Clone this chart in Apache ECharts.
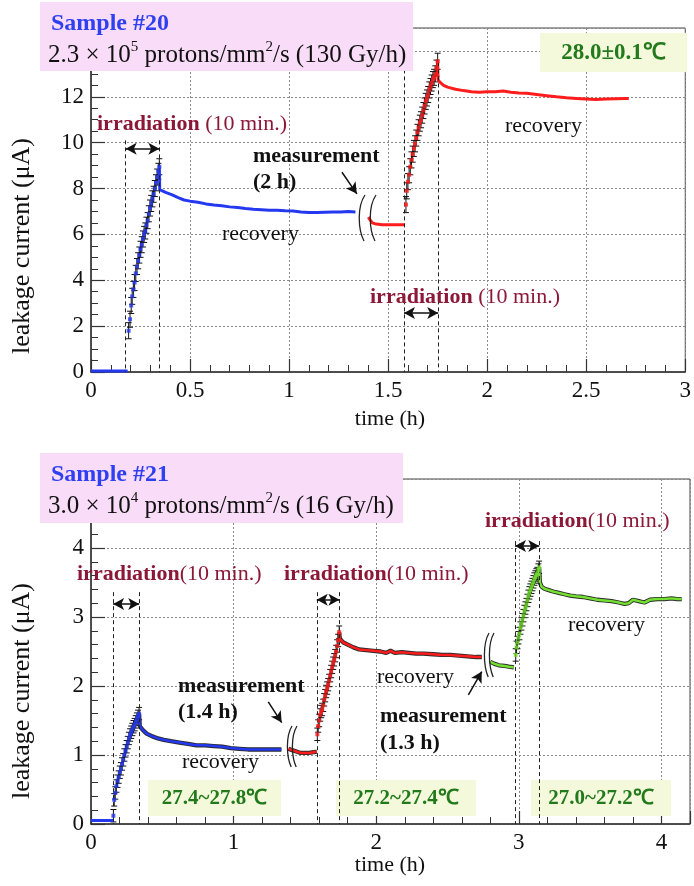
<!DOCTYPE html>
<html><head><meta charset="utf-8">
<script src="https://cdn.jsdelivr.net/npm/echarts@6/dist/echarts.min.js"></script>
<style>html,body{margin:0;padding:0;background:#fff}#c{width:694px;height:886px}</style>
</head><body><div id="c"></div>
<script>
// ===== Sample #20 (top panel) : [time (h), leakage current (uA)] =====
const s20Baseline = [[0,0.04],[0.05,0.04],[0.1,0.04],[0.15,0.04],[0.185,0.04]];
const s20Irr1 = [[0.19,1.8],[0.197,2.3],[0.203,2.9],[0.208,3.3],[0.214,3.6],[0.22,3.9],[0.226,4.3],[0.232,4.6],[0.238,4.85],[0.244,5.1],[0.25,5.35],[0.256,5.55],[0.262,5.8],[0.268,6.0],[0.274,6.15],[0.28,6.4],[0.286,6.6],[0.292,6.9],[0.298,7.15],[0.304,7.35],[0.31,7.55],[0.316,7.75],[0.322,8.0],[0.328,8.25],[0.334,8.5],[0.34,8.75],[0.345,8.95]];
const s20Rec1 = [[0.345,8.95],[0.347,7.95],[0.36,7.9],[0.38,7.82],[0.41,7.72],[0.44,7.6],[0.47,7.5],[0.5,7.45],[0.54,7.4],[0.58,7.33],[0.62,7.28],[0.66,7.25],[0.7,7.2],[0.74,7.17],[0.78,7.13],[0.82,7.1],[0.86,7.08],[0.9,7.05],[0.94,7.05],[0.98,7.03],[1.02,7.02],[1.06,6.98],[1.1,6.95],[1.14,6.95],[1.18,6.97],[1.22,6.98],[1.26,6.98],[1.3,7.0],[1.335,6.98]];
const s20Pre2 = [[1.4,6.75],[1.41,6.62],[1.42,6.5],[1.44,6.45],[1.47,6.42],[1.5,6.42],[1.53,6.42],[1.56,6.42],[1.585,6.42]];
const s20Irr2 = [[1.59,7.3],[1.594,7.9],[1.6,8.3],[1.606,8.6],[1.612,8.95],[1.618,9.25],[1.624,9.5],[1.63,9.75],[1.636,9.95],[1.642,10.2],[1.648,10.45],[1.654,10.65],[1.66,10.85],[1.666,11.0],[1.672,11.2],[1.678,11.4],[1.684,11.6],[1.69,11.8],[1.696,11.95],[1.702,12.1],[1.708,12.3],[1.714,12.45],[1.72,12.6],[1.726,12.75],[1.732,12.85],[1.738,13.0],[1.744,13.25],[1.75,13.55]];
const s20Rec2 = [[1.75,13.55],[1.752,12.75],[1.76,12.65],[1.78,12.5],[1.8,12.42],[1.84,12.33],[1.88,12.27],[1.92,12.22],[1.96,12.2],[2.0,12.22],[2.04,12.22],[2.08,12.25],[2.12,12.2],[2.16,12.17],[2.2,12.15],[2.25,12.1],[2.3,12.05],[2.35,12.0],[2.4,11.96],[2.45,11.93],[2.5,11.9],[2.55,11.88],[2.6,11.9],[2.65,11.92],[2.7,11.93],[2.715,11.93]];
const s20Err = 0.35;
const s20IrrWindows = [[0.175,0.345],[1.58,1.753]];
const s20XTicks = [0, 3, 0.5];   // min, max, interval
const s20YTicks = [0, 15, 2];

// ===== Sample #21 (bottom panel) =====
const s21Baseline = [[0,0.05],[0.05,0.05],[0.1,0.05],[0.155,0.05]];
const s21Irr1 = [[0.157,0.12],[0.163,0.35],[0.17,0.45],[0.178,0.55],[0.186,0.62],[0.194,0.68],[0.202,0.75],[0.21,0.8],[0.218,0.87],[0.226,0.93],[0.234,1.0],[0.242,1.06],[0.25,1.12],[0.258,1.18],[0.266,1.24],[0.274,1.29],[0.282,1.33],[0.29,1.37],[0.298,1.41],[0.306,1.44],[0.314,1.48],[0.322,1.52],[0.33,1.56],[0.337,1.6]];
const s21Rec1 = [[0.337,1.6],[0.342,1.42],[0.36,1.37],[0.39,1.31],[0.43,1.27],[0.47,1.24],[0.51,1.22],[0.56,1.2],[0.62,1.18],[0.68,1.16],[0.74,1.14],[0.8,1.14],[0.86,1.13],[0.92,1.12],[0.98,1.1],[1.04,1.09],[1.1,1.08],[1.16,1.08],[1.22,1.08],[1.28,1.08],[1.335,1.08]];
const s21Pre2 = [[1.385,1.09],[1.41,1.07],[1.44,1.05],[1.47,1.03],[1.5,1.03],[1.53,1.03],[1.56,1.04],[1.583,1.05]];
const s21Irr2 = [[1.587,1.3],[1.593,1.42],[1.6,1.5],[1.607,1.58],[1.614,1.63],[1.621,1.66],[1.628,1.72],[1.635,1.8],[1.642,1.86],[1.649,1.92],[1.656,1.97],[1.663,2.02],[1.67,2.08],[1.677,2.15],[1.684,2.21],[1.691,2.27],[1.698,2.33],[1.705,2.38],[1.712,2.44],[1.719,2.5],[1.726,2.58],[1.733,2.66],[1.74,2.78]];
const s21Rec2 = [[1.74,2.78],[1.745,2.68],[1.77,2.63],[1.8,2.6],[1.84,2.56],[1.88,2.53],[1.93,2.52],[1.98,2.51],[2.03,2.5],[2.07,2.48],[2.1,2.51],[2.13,2.48],[2.18,2.49],[2.23,2.48],[2.28,2.47],[2.33,2.47],[2.4,2.46],[2.46,2.45],[2.52,2.45],[2.58,2.44],[2.64,2.43],[2.7,2.42],[2.74,2.42]];
const s21Pre3 = [[2.8,2.35],[2.83,2.32],[2.86,2.3],[2.9,2.29],[2.93,2.28],[2.965,2.27]];
const s21Irr3 = [[2.978,2.45],[2.984,2.56],[2.99,2.63],[2.997,2.7],[3.004,2.76],[3.011,2.84],[3.018,2.9],[3.025,2.96],[3.032,3.02],[3.039,3.08],[3.046,3.13],[3.053,3.18],[3.06,3.24],[3.067,3.3],[3.074,3.35],[3.081,3.39],[3.088,3.43],[3.095,3.47],[3.102,3.51],[3.109,3.55],[3.116,3.58],[3.123,3.61],[3.13,3.63],[3.137,3.68],[3.142,3.72]];
const s21Rec3 = [[3.142,3.72],[3.147,3.5],[3.16,3.44],[3.18,3.41],[3.21,3.39],[3.24,3.37],[3.28,3.35],[3.32,3.33],[3.36,3.31],[3.4,3.3],[3.45,3.29],[3.5,3.27],[3.55,3.25],[3.6,3.24],[3.65,3.23],[3.7,3.21],[3.74,3.19],[3.77,3.2],[3.8,3.25],[3.84,3.23],[3.88,3.21],[3.92,3.25],[3.97,3.26],[4.02,3.26],[4.07,3.27],[4.11,3.26],[4.142,3.26]];
const s21Err = 0.09;
const s21IrrWindows = [[0.155,0.338],[1.583,1.742],[2.973,3.143]];
const s21XTicks = [0, 4.2, 1];
const s21YTicks = [0, 5, 1];

// annotation anchor values (data coordinates)
const s20ArrowY = [9.74, 2.57];
const s20DashTop = [10.1, 13.5];
const s21ArrowY = [3.19, 3.25, 4.03];
const s21DashTop = [3.36, 3.36, 4.1];
const s20MeasArrow = [[1.267,8.71],[1.342,7.77]];
const s21MeasArrows = [[[1.243,1.77],[1.337,1.47]], [[2.646,1.87],[2.74,2.21]]];

const BLUE = '#2438f0', RED = '#ff1c1c', GREEN = '#74e030';
const DARKRED = '#8c1838', DGREEN = '#237a1c';
const FONT = 'Liberation Serif';

const chart = echarts.init(document.getElementById('c'), null, {renderer: 'canvas'});

function errSeries(pts, err, xi) {
  return {
    type: 'custom', xAxisIndex: xi, yAxisIndex: xi, z: 3, silent: true,
    renderItem: (params, api) => {
      const t = api.value(0), v = api.value(1), e = api.value(2);
      const hi = api.coord([t, v + e]), lo = api.coord([t, v - e]);
      const w = 3, st = {stroke: '#111', lineWidth: 1};
      return {type: 'group', children: [
        {type: 'line', shape: {x1: hi[0], y1: hi[1], x2: lo[0], y2: lo[1]}, style: st},
        {type: 'line', shape: {x1: hi[0]-w, y1: hi[1], x2: hi[0]+w, y2: hi[1]}, style: st},
        {type: 'line', shape: {x1: lo[0]-w, y1: lo[1], x2: lo[0]+w, y2: lo[1]}, style: st}
      ]};
    },
    data: pts.map(p => [p[0], p[1], err])
  };
}
function lineSeries(pts, color, width, xi, under) {
  const arr = [];
  if (under) arr.push({type: 'line', xAxisIndex: xi, yAxisIndex: xi, data: pts, showSymbol: false, silent: true, z: 2,
    lineStyle: {color: '#2a2a2a', width: width + 1.8}});
  arr.push({type: 'line', xAxisIndex: xi, yAxisIndex: xi, data: pts, showSymbol: false, silent: true, z: 4,
    lineStyle: {color: color, width: width}});
  return arr;
}
function irrSeries(pts, color, xi, windows, arrowY, dashTop, meas) {
  const ml = [];
  windows.forEach((w, i) => {
    ml.push([{coord: [w[0], dashTop[i]], symbol: 'none'}, {coord: [w[0], 0], symbol: 'none'}]);
    ml.push([{coord: [w[1], dashTop[i]], symbol: 'none'}, {coord: [w[1], 0], symbol: 'none'}]);
  });
  const arrows = windows.map((w, i) => [{coord: [w[0], arrowY[i]], symbol: 'arrow'}, {coord: [w[1], arrowY[i]], symbol: 'arrow'}]);
  const measL = meas.map(m => [{coord: m[0], symbol: 'none'}, {coord: m[1], symbol: 'arrow'}]);
  return {
    type: 'scatter', xAxisIndex: xi, yAxisIndex: xi, data: pts, symbol: 'rect', symbolSize: 4, z: 5, silent: true,
    itemStyle: {color: color},
    markLine: {silent: true, animation: false, symbolSize: [9, 11], label: {show: false},
      data: ml.map(d => { d[0].lineStyle = {type: [4, 3], color: '#222', width: 1}; return d; })
        .concat(arrows.map(d => { d[0].lineStyle = {type: 'solid', color: '#111', width: 1.5}; return d; }))
        .concat(measL.map(d => { d[0].lineStyle = {type: 'solid', color: '#111', width: 1.5}; return d; }))
    }
  };
}

function xAxis(gi, ticks, minorSplit, fmt) {
  return {type: 'value', gridIndex: gi, min: ticks[0], max: ticks[1], interval: ticks[2],
    axisLine: {show: true, onZero: false, lineStyle: {color: '#333', width: 1.5}},
    axisTick: {show: true, inside: true, length: 13, lineStyle: {color: '#333', width: 1.2}},
    minorTick: {show: true, splitNumber: minorSplit, length: 7, lineStyle: {color: '#333', width: 1}},
    splitLine: {show: true, lineStyle: {type: [2, 2], color: '#8a8a8a', width: 1}},
    axisLabel: {fontFamily: FONT, fontSize: 23, color: '#111', margin: 7, formatter: fmt}
  };
}
function yAxis(gi, ticks, minorSplit, fmt) {
  return {type: 'value', gridIndex: gi, min: ticks[0], max: ticks[1], interval: ticks[2],
    axisLine: {show: true, onZero: false, lineStyle: {color: '#333', width: 1.5}},
    axisTick: {show: true, inside: true, length: 14, lineStyle: {color: '#333', width: 1.2}},
    minorTick: {show: true, splitNumber: minorSplit, length: 7, lineStyle: {color: '#333', width: 1}},
    splitLine: {show: true, lineStyle: {type: [2, 2], color: '#8a8a8a', width: 1}},
    axisLabel: {fontFamily: FONT, fontSize: 23, color: '#111', margin: 7, formatter: fmt}
  };
}

function txt(x, y, text, opts) {
  return Object.assign({type: 'text', x: x, y: y, z: 50, silent: true,
    style: Object.assign({text: text, fontFamily: FONT, fontSize: 22, fill: '#111', verticalAlign: 'middle', align: 'left'}, opts || {})});
}
function richIrr(x, y, gap) {
  return txt(x, y, '{b|irradiation}' + (gap ? ' ' : '') + '{n|(10 min.)}', {rich: {
    b: {fontFamily: FONT, fontSize: 22, fontWeight: 'bold', fill: DARKRED},
    n: {fontFamily: FONT, fontSize: 22, fill: DARKRED}}});
}
function sampleBox(x, y, w, h, title, pre, sup1, mid, sup2, post) {
  return [
    {type: 'rect', z: 100, silent: true, shape: {x: x, y: y, width: w, height: h}, style: {fill: '#f9dcf8'}},
    {type: 'text', z: 101, silent: true, x: x + 11, y: y + 22, style: {text: title, fontFamily: FONT, fontSize: 24, fontWeight: 'bold', fill: '#2f3ff2', verticalAlign: 'middle'}},
    {type: 'text', z: 101, silent: true, x: x + 8, y: y + 53, style: {
      text: '{n|' + pre + '}{s|' + sup1 + '}{n|' + mid + '}{s|' + sup2 + '}{n|' + post + '}',
      verticalAlign: 'middle',
      rich: {n: {fontFamily: FONT, fontSize: 25, fill: '#111', lineHeight: 30},
             s: {fontFamily: FONT, fontSize: 15, fill: '#111', lineHeight: 22, verticalAlign: 'top'}}}}
  ];
}
function tempBox(x, y, w, h, text, fs) {
  return [
    {type: 'rect', z: 1, silent: true, shape: {x: x, y: y, width: w, height: h}, style: {fill: '#f5f9db'}},
    {type: 'text', z: 51, silent: true, x: x + w / 2, y: y + h / 2 + 1, style: {text: text, fontFamily: FONT, fontSize: fs, fontWeight: 'bold', fill: DGREEN, align: 'center', verticalAlign: 'middle'}}
  ];
}
function breakMark(x, y1, y2, dx) {
  const h = y2 - y1;
  return {type: 'bezierCurve', z: 50, silent: true,
    shape: {x1: x, y1: y1, cpx1: x - dx * 1.6, cpy1: y1 + h * 0.25, cpx2: x - dx * 1.4, cpy2: y1 + h * 0.75, x2: x - dx * 0.2, y2: y2},
    style: {stroke: '#222', lineWidth: 1.3, fill: null}};
}

const graphic = [].concat(
  sampleBox(40, 2, 373, 69, 'Sample #20', '2.3 × 10', '5', ' protons/mm', '2', '/s (130 Gy/h)'),
  tempBox(540, 33, 147, 39, '28.0±0.1℃', 23),
  [richIrr(97, 124, true), richIrr(370, 297, true)],
  [txt(253, 156, 'measurement', {fontWeight: 'bold'}), txt(253, 182, '(2 h)', {fontWeight: 'bold'})],
  [txt(222, 234, 'recovery'), txt(505, 126, 'recovery')],
  [breakMark(365, 195, 241, 5), breakMark(376, 195, 241, 5)],
  sampleBox(40, 453, 363, 70, 'Sample #21', '3.0 × 10', '4', ' protons/mm', '2', '/s (16 Gy/h)'),
  tempBox(148, 780, 133, 36, '27.4~27.8℃', 21),
  tempBox(336, 780, 140, 36, '27.2~27.4℃', 21),
  tempBox(531, 780, 140, 36, '27.0~27.2℃', 21),
  [richIrr(77, 574, false), richIrr(284, 574, false), richIrr(485, 521, false)],
  [txt(178, 686, 'measurement', {fontWeight: 'bold'}), txt(178, 712, '(1.4 h)', {fontWeight: 'bold'}),
   txt(380, 716, 'measurement', {fontWeight: 'bold'}), txt(380, 743, '(1.3 h)', {fontWeight: 'bold'})],
  [txt(182, 762, 'recovery'), txt(377, 677, 'recovery'), txt(568, 625, 'recovery')],
  [breakMark(292, 726, 767, 4), breakMark(297, 726, 767, 4), breakMark(489, 633, 677, 4), breakMark(494, 633, 677, 4)],
  [
    {type: 'text', z: 50, silent: true, x: 390, y: 419, style: {text: 'time (h)', fontFamily: FONT, fontSize: 22, fill: '#111', align: 'center', verticalAlign: 'middle'}},
    {type: 'text', z: 50, silent: true, x: 390, y: 865, style: {text: 'time (h)', fontFamily: FONT, fontSize: 22, fill: '#111', align: 'center', verticalAlign: 'middle'}},
    {type: 'text', z: 50, silent: true, x: 22, y: 246, rotation: Math.PI / 2, style: {text: 'leakage current (μA)', fontFamily: FONT, fontSize: 26, fill: '#111', align: 'center', verticalAlign: 'middle'}},
    {type: 'text', z: 50, silent: true, x: 22, y: 691, rotation: Math.PI / 2, style: {text: 'leakage current (μA)', fontFamily: FONT, fontSize: 26, fill: '#111', align: 'center', verticalAlign: 'middle'}}
  ]
);

const option = {
  animation: false,
  backgroundColor: '#fff',
  textStyle: {fontFamily: FONT},
  grid: [
    {left: 91, top: 28, width: 599, height: 344, show: true, borderColor: '#444', borderWidth: 1, backgroundColor: 'transparent'},
    {left: 91, top: 479, width: 599, height: 345, show: true, borderColor: '#444', borderWidth: 1, backgroundColor: 'transparent'}
  ],
  xAxis: [
    xAxis(0, s20XTicks, 5, v => String(v)),
    xAxis(1, s21XTicks, 5, v => (Math.abs(v - Math.round(v)) < 1e-6 ? String(Math.round(v)) : ''))
  ],
  yAxis: [
    yAxis(0, s20YTicks, 4, v => (v > 13 ? '' : String(v))),
    yAxis(1, s21YTicks, 5, v => (v > 4.5 ? '' : String(v)))
  ],
  series: [].concat(
    lineSeries(s20Baseline, BLUE, 3, 0, false),
    lineSeries(s20Rec1, BLUE, 3, 0, false),
    lineSeries(s20Pre2, RED, 3, 0, false),
    lineSeries(s20Rec2, RED, 3, 0, false),
    [errSeries(s20Irr1, s20Err, 0), errSeries(s20Irr2, s20Err, 0)],
    [irrSeries(s20Irr1, BLUE, 0, s20IrrWindows, s20ArrowY, s20DashTop, [s20MeasArrow]),
     irrSeries(s20Irr2, RED, 0, [], [], [], [])],
    lineSeries(s21Baseline, BLUE, 3, 1, false),
    lineSeries(s21Rec1, BLUE, 2.5, 1, true),
    lineSeries(s21Pre2, RED, 2.5, 1, true),
    lineSeries(s21Rec2, RED, 2.5, 1, true),
    lineSeries(s21Pre3, GREEN, 2.5, 1, true),
    lineSeries(s21Rec3, GREEN, 2.5, 1, true),
    [errSeries(s21Irr1, s21Err, 1), errSeries(s21Irr2, s21Err, 1), errSeries(s21Irr3, s21Err, 1)],
    [irrSeries(s21Irr1, BLUE, 1, s21IrrWindows, s21ArrowY, s21DashTop, s21MeasArrows),
     irrSeries(s21Irr2, RED, 1, [], [], [], []),
     irrSeries(s21Irr3, GREEN, 1, [], [], [], [])]
  ),
  graphic: graphic
};
chart.setOption(option);
</script>
</body></html>
